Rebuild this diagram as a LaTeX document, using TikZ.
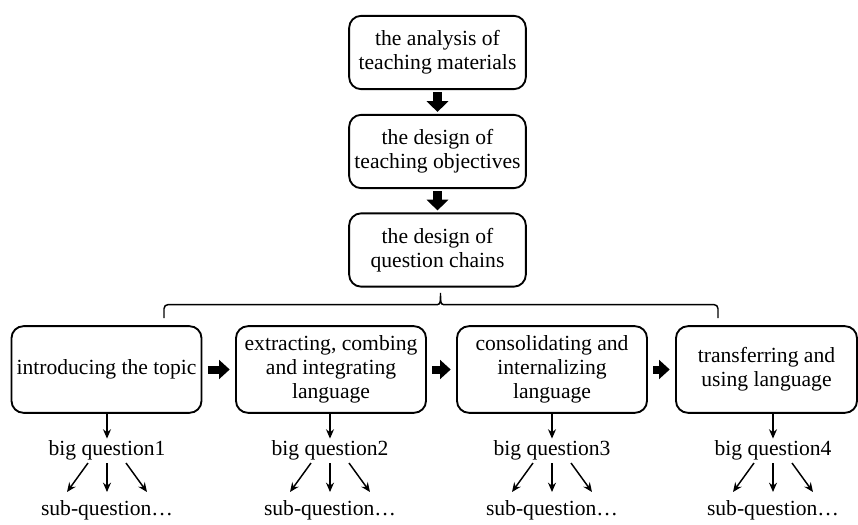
\documentclass[tikz,border=0pt]{standalone}
\usepackage{fontspec}
\setmainfont{Liberation Serif}
\usetikzlibrary{arrows.meta,calc}

\begin{document}
\begin{tikzpicture}[x=0.75pt,y=-0.75pt,
  stagebox/.style={draw,line width=1.4pt,rounded corners=9pt,align=center,inner sep=1pt,font=\fontsize{16.2}{18}\selectfont},
  topbox/.style={stagebox,minimum width=132.5pt,minimum height=55pt},
  phasebox/.style={stagebox,minimum width=142.5pt,minimum height=65pt},
  qlabel/.style={inner sep=1pt,font=\fontsize{16.2}{18}\selectfont},
  fatarrow/.style={line width=6.5pt,-{Triangle[length=8pt,width=16pt]},shorten <=1.5pt,shorten >=1.5pt},
  sidearrow/.style={fatarrow,line width=6pt,-{Triangle[length=8pt,width=14pt]},shorten <=4pt,shorten >=4pt},
  thinarrow/.style={line width=1.1pt,-{Stealth[length=7pt,width=6pt]}}]
\useasboundingbox (0,0) rectangle (858,525);

% Planning steps
\node[topbox] (analysis) at (437.5,52.5) {the analysis of\\teaching materials};
\node[topbox] (objectives) at (437.5,151.5) {the design of\\teaching objectives};
\node[topbox] (chains) at (437.5,250) {the design of\\question chains};
\draw[fatarrow] (analysis) -- (objectives);
\draw[fatarrow] (objectives) -- (chains);

% Bracket under the question chains
\coordinate (brL) at (164,318);
\coordinate (brR) at (718,318);
\coordinate (cusp) at ($(chains.south)+(3,3)$);
\draw[line width=1.1pt,rounded corners=3pt] (brL) |- ($(cusp)+(-7,14)$)
  .. controls ($(cusp)+(0,14)$) and ($(cusp)+(0,10)$) .. (cusp)
  .. controls ($(cusp)+(0,10)$) and ($(cusp)+(0,14)$) .. ($(cusp)+(7,14)$) -| (brR);

% Teaching stages
\node[phasebox] (intro) at (106.5,369.5) {introducing the topic};
\node[phasebox] (extract) at (331,369.5) {extracting, combing\\and integrating\\language};
\node[phasebox] (consol) at (552,369.5) {consolidating and\\internalizing\\language};
\node[phasebox,minimum width=135.75pt] (transfer) at (766.5,369.5) {transferring and\\using language};
\draw[sidearrow] (intro) -- (extract);
\draw[sidearrow] (extract) -- (consol);
\draw[sidearrow] (consol) -- (transfer);

% Big questions
\node[qlabel] (bigA) at (107,450) {big question1};
\node[qlabel] (bigB) at (330,450) {big question2};
\node[qlabel] (bigC) at (552,450) {big question3};
\node[qlabel] (bigD) at (773,450) {big question4};
\draw[thinarrow] (intro.south -| bigA) -- (bigA);
\draw[thinarrow] (extract.south -| bigB) -- (bigB);
\draw[thinarrow] (consol.south -| bigC) -- (bigC);
\draw[thinarrow] (transfer.south -| bigD) -- (bigD);

% Sub-questions
\node[qlabel] (subA) at (107,510) {sub-question…};
\node[qlabel] (subB) at (330,510) {sub-question…};
\node[qlabel] (subC) at (552,510) {sub-question…};
\node[qlabel] (subD) at (773,510) {sub-question…};
\draw[thinarrow] ($(bigA)+(-19,13)$) -- ($(subA)+(-40,-18)$);
\draw[thinarrow] ($(bigA)+(0,13)$) -- ($(subA)+(0,-18)$);
\draw[thinarrow] ($(bigA)+(19,13)$) -- ($(subA)+(40,-18)$);
\draw[thinarrow] ($(bigB)+(-19,13)$) -- ($(subB)+(-40,-18)$);
\draw[thinarrow] ($(bigB)+(0,13)$) -- ($(subB)+(0,-18)$);
\draw[thinarrow] ($(bigB)+(19,13)$) -- ($(subB)+(40,-18)$);
\draw[thinarrow] ($(bigC)+(-19,13)$) -- ($(subC)+(-40,-18)$);
\draw[thinarrow] ($(bigC)+(0,13)$) -- ($(subC)+(0,-18)$);
\draw[thinarrow] ($(bigC)+(19,13)$) -- ($(subC)+(40,-18)$);
\draw[thinarrow] ($(bigD)+(-19,13)$) -- ($(subD)+(-40,-18)$);
\draw[thinarrow] ($(bigD)+(0,13)$) -- ($(subD)+(0,-18)$);
\draw[thinarrow] ($(bigD)+(19,13)$) -- ($(subD)+(40,-18)$);
\end{tikzpicture}
\end{document}
